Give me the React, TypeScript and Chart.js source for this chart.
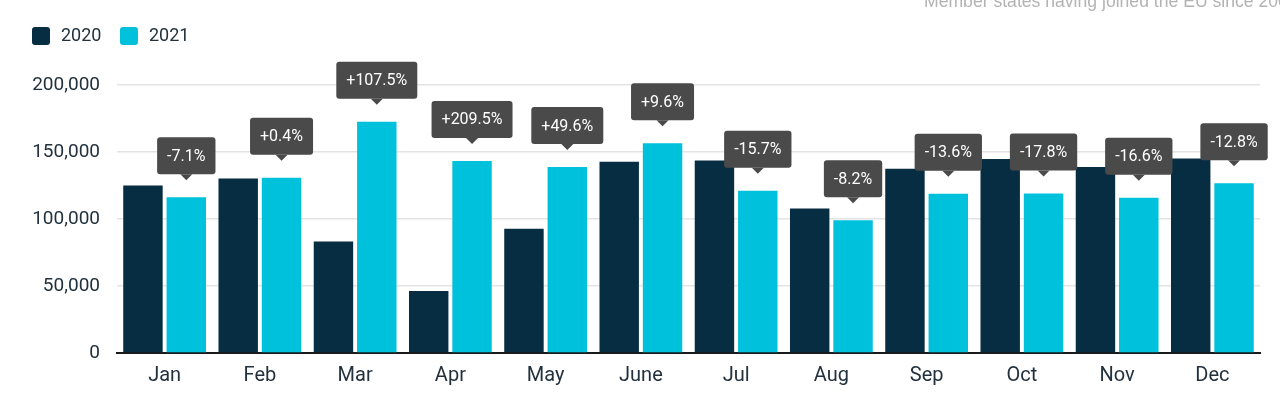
import React, { useEffect, useRef } from "react";
import { Chart, registerables } from "chart.js";

Chart.register(...registerables);

const months = ["Jan", "Feb", "Mar", "Apr", "May", "June", "Jul", "Aug", "Sep", "Oct", "Nov", "Dec"];
const values2020 = [125000, 130300, 83200, 46300, 92800, 142800, 143700, 107900, 137500, 144800, 138800, 145200];
const values2021 = [116200, 130800, 172600, 143300, 138800, 156500, 121100, 99100, 118800, 119000, 115800, 126600];
const changeLabels = ["-7.1%", "+0.4%", "+107.5%", "+209.5%", "+49.6%", "+9.6%", "-15.7%", "-8.2%", "-13.6%", "-17.8%", "-16.6%", "-12.8%"];
const seriesNames = ["2020", "2021"];
const seriesColors = ["#072d42", "#00c1dc"];
const subtitle = "Member states having joined the EU since 2004";

const calloutPlugin = {
  id: "callouts",
  afterDatasetsDraw(chart: any) {
    const meta = chart.getDatasetMeta(1);
    const ctx = chart.ctx as CanvasRenderingContext2D;
    ctx.save();
    ctx.font = "16px Roboto";
    meta.data.forEach((bar: any, i: number) => {
      const label = changeLabels[i];
      const tipY = bar.y - 17;
      const boxBottom = tipY - 6;
      const h = 37;
      const tw = ctx.measureText(label).width;
      const w = tw + 20;
      const x0 = bar.x - w / 2;
      const y0 = boxBottom - h;
      ctx.fillStyle = "#4a4a4a";
      ctx.beginPath();
      (ctx as any).roundRect(x0, y0, w, h, 3);
      ctx.fill();
      ctx.beginPath();
      ctx.moveTo(bar.x - 6, boxBottom);
      ctx.lineTo(bar.x + 6, boxBottom);
      ctx.lineTo(bar.x, tipY);
      ctx.closePath();
      ctx.fill();
      ctx.fillStyle = "#ffffff";
      ctx.textAlign = "center";
      ctx.textBaseline = "middle";
      ctx.fillText(label, bar.x, y0 + h / 2 + 1);
    });
    ctx.restore();
  },
};

export default function App() {
  const canvasRef = useRef<HTMLCanvasElement | null>(null);

  useEffect(() => {
    if (!canvasRef.current) return;
    const chart = new Chart(canvasRef.current, {
      type: "bar",
      data: {
        labels: months,
        datasets: [
          {
            label: seriesNames[0],
            data: values2020,
            backgroundColor: seriesColors[0],
            categoryPercentage: 0.91,
            barPercentage: 0.91,
          },
          {
            label: seriesNames[1],
            data: values2021,
            backgroundColor: seriesColors[1],
            categoryPercentage: 0.91,
            barPercentage: 0.91,
          },
        ],
      },
      options: {
        responsive: false,
        animation: false,
        layout: { padding: { top: 85, right: 20, left: 0, bottom: 0 } },
        plugins: {
          legend: { display: false },
          tooltip: { enabled: false },
        },
        scales: {
          x: {
            grid: { display: false, drawTicks: false },
            border: { display: true, color: "#1a1a1a", width: 2 },
            ticks: {
              color: "#22313d",
              font: { family: "Roboto", size: 20 },
              padding: 11,
            },
            afterFit: (s: any) => {
              s.height = 44;
            },
          },
          y: {
            min: 0,
            max: 200000,
            border: { display: false },
            grid: { color: "#e4e4e4", lineWidth: 1.5, drawTicks: false },
            ticks: {
              stepSize: 50000,
              color: "#22313d",
              font: { family: "Roboto", size: 19 },
              padding: 17,
              callback: (v: any) => Number(v).toLocaleString("en-US"),
            },
            afterFit: (s: any) => {
              s.width = 117;
            },
          },
        },
      },
      plugins: [calloutPlugin],
    });
    return () => chart.destroy();
  }, []);

  const legendText: React.CSSProperties = {
    position: "absolute",
    top: 24,
    fontFamily: "Roboto",
    fontSize: 18,
    lineHeight: "22px",
    color: "#22313d",
  };
  const sq = (left: number, color: string): React.CSSProperties => ({
    position: "absolute",
    left,
    top: 27,
    width: 18,
    height: 18,
    borderRadius: 3,
    background: color,
  });

  return (
    <div style={{ position: "fixed", left: 0, top: 0, width: 1280, height: 397, overflow: "hidden", background: "#fff" }}>
      <canvas ref={canvasRef} width={1280} height={397} style={{ position: "absolute", left: 0, top: 0 }} />
      <div
        style={{
          position: "absolute",
          left: 924,
          top: -8,
          whiteSpace: "nowrap",
          fontFamily: "'Liberation Sans', Arial, sans-serif",
          fontSize: 17.6,
          lineHeight: "18px",
          color: "#b3b3b3",
        }}
      >
        {subtitle}
      </div>
      <div style={sq(32, seriesColors[0])} />
      <div style={{ ...legendText, left: 61 }}>{seriesNames[0]}</div>
      <div style={sq(120, seriesColors[1])} />
      <div style={{ ...legendText, left: 149 }}>{seriesNames[1]}</div>
    </div>
  );
}
